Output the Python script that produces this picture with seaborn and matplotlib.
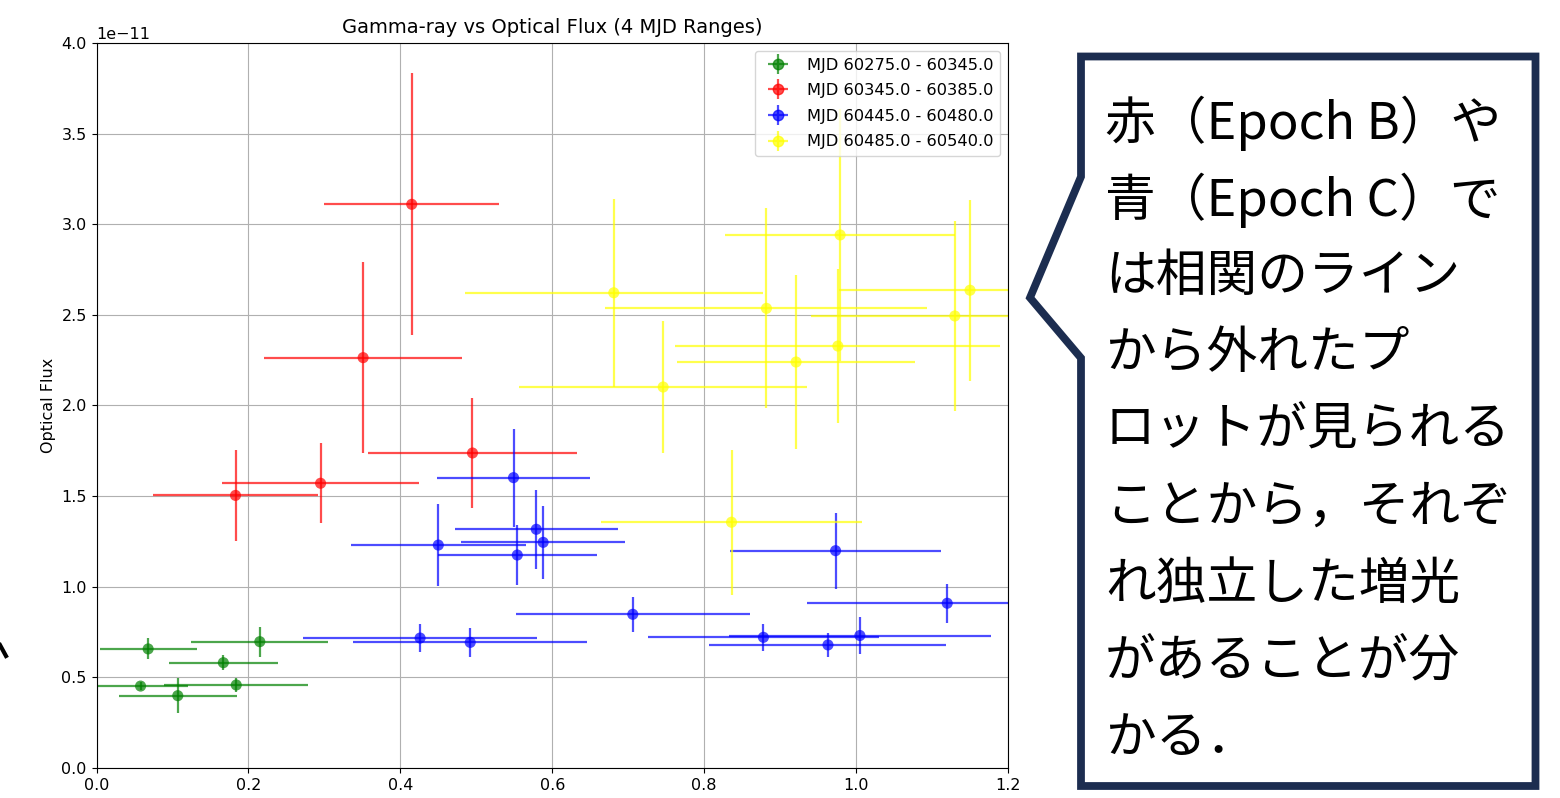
import pandas as pd
import matplotlib.pyplot as plt
import seaborn as sns
from matplotlib.patches import Polygon
from matplotlib.lines import Line2D

# ===== DATA (flux values in units of 1e-11) =====
ranges = ["MJD 60275.0 - 60345.0", "MJD 60345.0 - 60385.0",
          "MJD 60445.0 - 60480.0", "MJD 60485.0 - 60540.0"]
colors = ['green', 'red', 'blue', 'yellow']

green_gamma = [0.068, 0.215, 0.167, 0.058, 0.107, 0.184]
green_opt = [0.657, 0.697, 0.581, 0.452, 0.399, 0.458]
green_gerr = [0.064, 0.090, 0.072, 0.062, 0.078, 0.095]
green_oerr = [0.058, 0.083, 0.040, 0.020, 0.098, 0.040]

red_gamma = [0.415, 0.351, 0.495, 0.295, 0.183]
red_opt = [3.110, 2.264, 1.738, 1.571, 1.504]
red_gerr = [0.115, 0.130, 0.138, 0.130, 0.109]
red_oerr = [0.722, 0.526, 0.306, 0.222, 0.250]

blue_gamma = [0.549, 0.579, 0.588, 0.554, 0.450, 0.426, 0.492, 0.706, 0.973, 1.120, 0.878, 1.005, 0.963]
blue_opt = [1.602, 1.317, 1.245, 1.175, 1.230, 0.717, 0.693, 0.848, 1.199, 0.909, 0.721, 0.731, 0.679]
blue_gerr = [0.101, 0.107, 0.108, 0.105, 0.115, 0.154, 0.154, 0.154, 0.139, 0.185, 0.152, 0.172, 0.156]
blue_oerr = [0.270, 0.217, 0.200, 0.167, 0.225, 0.079, 0.079, 0.095, 0.210, 0.108, 0.075, 0.103, 0.066]

yellow_gamma = [0.681, 0.882, 0.976, 0.979, 1.150, 1.130, 0.921, 0.746, 0.836]
yellow_opt = [2.622, 2.536, 2.328, 2.941, 2.636, 2.494, 2.240, 2.102, 1.356]
yellow_gerr = [0.196, 0.212, 0.214, 0.151, 0.173, 0.190, 0.157, 0.190, 0.172]
yellow_oerr = [0.520, 0.552, 0.425, 0.695, 0.500, 0.524, 0.478, 0.366, 0.400]

note_lines = ["赤（Epoch B）や", "青（Epoch C）で", "は相関のライン", "から外れたプ",
              "ロットが見られる", "ことから，それぞ", "れ独立した増光",
              "があることが分", "かる．"]

groups = [
    (green_gamma, green_opt, green_gerr, green_oerr),
    (red_gamma, red_opt, red_gerr, red_oerr),
    (blue_gamma, blue_opt, blue_gerr, blue_oerr),
    (yellow_gamma, yellow_opt, yellow_gerr, yellow_oerr),
]
frames = []
for label, (g, o, ge, oe) in zip(ranges, groups):
    frames.append(pd.DataFrame({
        'gamma': g,
        'optical': [v * 1e-11 for v in o],
        'gerr': ge,
        'oerr': [v * 1e-11 for v in oe],
        'range': label,
    }))
df = pd.concat(frames, ignore_index=True)

# ===== FIGURE =====
W, H = 1560, 798
fig = plt.figure(figsize=(W / 100, H / 100), dpi=100)
ax = fig.add_axes([96.5 / W, 1 - 768 / H, (1008 - 96.5) / W, (768 - 43) / H])

palette = dict(zip(ranges, colors))
for label in ranges:
    sub = df[df['range'] == label]
    ax.errorbar(sub['gamma'], sub['optical'], xerr=sub['gerr'], yerr=sub['oerr'],
                fmt='none', ecolor=palette[label], elinewidth=1.6, alpha=0.7, zorder=2)
sns.scatterplot(data=df, x='gamma', y='optical', hue='range', palette=palette,
                s=64, alpha=0.7, linewidth=0, legend=False, ax=ax, zorder=3)

# ===== TITLE & AXIS =====
ax.set_title("Gamma-ray vs Optical Flux (4 MJD Ranges)", fontsize=14, pad=7)
ax.set_xlabel("")
ax.set_ylabel("Optical Flux", fontsize=11.5)
ax.set_xlim(0, 1.2)
ax.set_ylim(0, 4e-11)
ax.tick_params(labelsize=11.5)
ax.yaxis.get_offset_text().set_fontsize(11.5)
ax.grid(True)

handles = []
for label in ranges:
    c = palette[label]
    dot = Line2D([], [], marker='o', ls='none', color=c, ms=7.5, alpha=0.7)
    cross = Line2D([], [], marker='+', ls='none', color=c, ms=14, mew=1.6, alpha=0.7)
    handles.append((dot, cross))
ax.legend(handles, ranges, loc='upper right', fontsize=11.7, labelspacing=0.65)

# ===== CALLOUT =====
box_px = [(1081, 56.5), (1535.5, 56.5), (1535.5, 786), (1081, 786),
          (1081, 358), (1030, 297.7), (1081, 176.7)]
box = Polygon([(x / W, 1 - y / H) for x, y in box_px], closed=True,
              transform=fig.transFigure, facecolor='white', edgecolor='#1c2d50',
              linewidth=5.6, joinstyle='miter')
fig.add_artist(box)

for i, line in enumerate(note_lines):
    fig.text(1105 / W, 1 - (123 + 77 * i) / H, line, fontsize=36.5, va='center', ha='left',
             family=['Noto Sans CJK JP', 'DejaVu Sans'], color='black')

# cut-off arrow tip at the left edge
fig.add_artist(Line2D([0, 6 / W], [1 - 645 / H, 1 - 656 / H], color='black', lw=3,
                      transform=fig.transFigure))

fig.savefig('out.png', dpi=100)
